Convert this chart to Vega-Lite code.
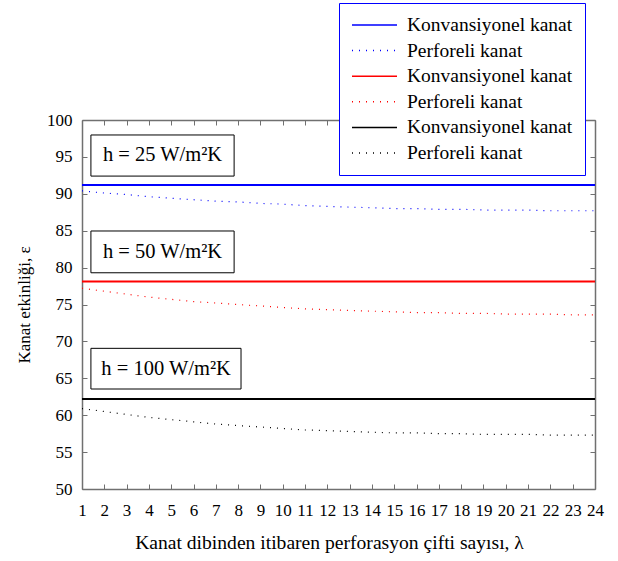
{
  "$schema": "https://vega.github.io/schema/vega-lite/v6.json",
  "width": 513,
  "height": 369,
  "autosize": "none",
  "padding": {"left": 82, "top": 120, "right": 23, "bottom": 72},
  "background": "white",
  "config": {
    "view": {"stroke": null},
    "font": "Liberation Serif",
    "axis": {
      "grid": false,
      "domainColor": "#707070",
      "domainWidth": 1.5,
      "tickColor": "#707070",
      "tickWidth": 1,
      "tickSize": -5,
      "labelFont": "Liberation Serif",
      "labelFontSize": 17,
      "labelColor": "black",
      "titleFont": "Liberation Serif",
      "titleFontSize": 17,
      "titleFontWeight": "normal",
      "titleColor": "black",
      "labelFlush": false,
      "labelOverlap": false
    },
    "legend": {
      "orient": "none",
      "legendX": 257,
      "legendY": -117,
      "strokeColor": "#0000ff",
      "fillColor": "white",
      "padding": 12,
      "labelFont": "Liberation Serif",
      "labelFontSize": 19.5,
      "labelColor": "black",
      "labelLimit": 400,
      "symbolType": "M-1,0H4",
      "symbolSize": 324,
      "symbolStrokeWidth": 1.5,
      "labelOffset": 36,
      "rowPadding": 5.6
    }
  },
  "datasets": {
    "solid": [
      {"x": 1, "y": 91.2, "s": "K25"}, {"x": 24, "y": 91.2, "s": "K25"},
      {"x": 1, "y": 78.1, "s": "K50"}, {"x": 24, "y": 78.1, "s": "K50"},
      {"x": 1, "y": 62.2, "s": "K100"}, {"x": 24, "y": 62.2, "s": "K100"}
    ],
    "dotted": [
      {"x": 1, "y": 90.4, "s": "P25"}, {"x": 2, "y": 90.1, "s": "P25"}, {"x": 3, "y": 89.9, "s": "P25"}, {"x": 4, "y": 89.6, "s": "P25"},
      {"x": 5, "y": 89.4, "s": "P25"}, {"x": 6, "y": 89.2, "s": "P25"}, {"x": 7, "y": 89.0, "s": "P25"}, {"x": 8, "y": 88.9, "s": "P25"},
      {"x": 9, "y": 88.7, "s": "P25"}, {"x": 10, "y": 88.6, "s": "P25"}, {"x": 11, "y": 88.4, "s": "P25"}, {"x": 12, "y": 88.3, "s": "P25"},
      {"x": 13, "y": 88.2, "s": "P25"}, {"x": 14, "y": 88.1, "s": "P25"}, {"x": 15, "y": 88.0, "s": "P25"}, {"x": 16, "y": 88.0, "s": "P25"},
      {"x": 17, "y": 87.9, "s": "P25"}, {"x": 18, "y": 87.9, "s": "P25"}, {"x": 19, "y": 87.8, "s": "P25"}, {"x": 20, "y": 87.8, "s": "P25"},
      {"x": 21, "y": 87.8, "s": "P25"}, {"x": 22, "y": 87.7, "s": "P25"}, {"x": 23, "y": 87.7, "s": "P25"}, {"x": 24, "y": 87.7, "s": "P25"},
      {"x": 1, "y": 77.2, "s": "P50"}, {"x": 2, "y": 76.8, "s": "P50"}, {"x": 3, "y": 76.4, "s": "P50"}, {"x": 4, "y": 76.0, "s": "P50"},
      {"x": 5, "y": 75.7, "s": "P50"}, {"x": 6, "y": 75.4, "s": "P50"}, {"x": 7, "y": 75.2, "s": "P50"}, {"x": 8, "y": 75.0, "s": "P50"},
      {"x": 9, "y": 74.8, "s": "P50"}, {"x": 10, "y": 74.6, "s": "P50"}, {"x": 11, "y": 74.4, "s": "P50"}, {"x": 12, "y": 74.3, "s": "P50"},
      {"x": 13, "y": 74.2, "s": "P50"}, {"x": 14, "y": 74.1, "s": "P50"}, {"x": 15, "y": 74.0, "s": "P50"}, {"x": 16, "y": 73.9, "s": "P50"},
      {"x": 17, "y": 73.9, "s": "P50"}, {"x": 18, "y": 73.8, "s": "P50"}, {"x": 19, "y": 73.8, "s": "P50"}, {"x": 20, "y": 73.7, "s": "P50"},
      {"x": 21, "y": 73.7, "s": "P50"}, {"x": 22, "y": 73.7, "s": "P50"}, {"x": 23, "y": 73.6, "s": "P50"}, {"x": 24, "y": 73.6, "s": "P50"},
      {"x": 1, "y": 60.9, "s": "P100"}, {"x": 2, "y": 60.5, "s": "P100"}, {"x": 3, "y": 60.1, "s": "P100"}, {"x": 4, "y": 59.7, "s": "P100"},
      {"x": 5, "y": 59.4, "s": "P100"}, {"x": 6, "y": 59.1, "s": "P100"}, {"x": 7, "y": 58.8, "s": "P100"}, {"x": 8, "y": 58.6, "s": "P100"},
      {"x": 9, "y": 58.4, "s": "P100"}, {"x": 10, "y": 58.2, "s": "P100"}, {"x": 11, "y": 58.0, "s": "P100"}, {"x": 12, "y": 57.9, "s": "P100"},
      {"x": 13, "y": 57.8, "s": "P100"}, {"x": 14, "y": 57.7, "s": "P100"}, {"x": 15, "y": 57.6, "s": "P100"}, {"x": 16, "y": 57.6, "s": "P100"},
      {"x": 17, "y": 57.5, "s": "P100"}, {"x": 18, "y": 57.5, "s": "P100"}, {"x": 19, "y": 57.4, "s": "P100"}, {"x": 20, "y": 57.4, "s": "P100"},
      {"x": 21, "y": 57.4, "s": "P100"}, {"x": 22, "y": 57.3, "s": "P100"}, {"x": 23, "y": 57.3, "s": "P100"}, {"x": 24, "y": 57.3, "s": "P100"}
    ],
    "boxes": [
      {"x1": 1.4, "x2": 7.82, "y1": 97.97, "y2": 92.4, "xc": 4.61, "yc": 95.2, "label": "h = 25 W/m²K"},
      {"x1": 1.4, "x2": 7.82, "y1": 84.96, "y2": 79.3, "xc": 4.61, "yc": 82.1, "label": "h = 50 W/m²K"},
      {"x1": 1.4, "x2": 8.13, "y1": 69.06, "y2": 63.55, "xc": 4.77, "yc": 66.3, "label": "h = 100 W/m²K"}
    ]
  },
  "resolve": {"axis": {"x": "independent", "y": "independent"}},
  "layer": [
    {
      "data": {"name": "boxes"},
      "mark": {"type": "rect", "fill": "white", "stroke": "black", "strokeWidth": 1},
      "encoding": {
        "x": {
          "field": "x1", "type": "quantitative",
          "scale": {"domain": [1, 24], "nice": false, "zero": false},
          "axis": {
            "orient": "bottom",
            "values": [1,2,3,4,5,6,7,8,9,10,11,12,13,14,15,16,17,18,19,20,21,22,23,24],
            "labelFont": "Liberation Serif",
            "labelFontSize": 17,
            "labelPadding": 18,
            "title": "Kanat dibinden itibaren perforasyon çifti sayısı, λ",
            "titleFont": "Liberation Serif",
            "titleFontSize": 19.6,
            "titlePadding": 15,
            "titleX": 247
          }
        },
        "x2": {"field": "x2"},
        "y": {
          "field": "y1", "type": "quantitative",
          "scale": {"domain": [50, 100], "nice": false, "zero": false},
          "axis": {
            "orient": "left",
            "values": [50,55,60,65,70,75,80,85,90,95,100],
            "labelFont": "Liberation Serif",
            "labelFontSize": 17,
            "labelPadding": 15,
            "title": "Kanat etkinliği, ε",
            "titleFont": "Liberation Serif",
            "titleFontSize": 17,
            "titlePadding": 13
          }
        },
        "y2": {"field": "y2"}
      }
    },
    {
      "data": {"name": "boxes"},
      "mark": {"type": "text", "font": "Liberation Serif", "fontSize": 20.5, "color": "black", "align": "center", "baseline": "middle"},
      "encoding": {
        "x": {"field": "xc", "type": "quantitative", "scale": {"domain": [1, 24], "nice": false, "zero": false}, "axis": null},
        "y": {"field": "yc", "type": "quantitative", "scale": {"domain": [50, 100], "nice": false, "zero": false}, "axis": null},
        "text": {"field": "label"}
      }
    },
    {
      "data": {"name": "solid"},
      "mark": {"type": "line", "strokeWidth": 2},
      "encoding": {
        "x": {
          "field": "x", "type": "quantitative",
          "scale": {"domain": [1, 24], "nice": false, "zero": false},
          "axis": {
            "orient": "top",
            "values": [1,2,3,4,5,6,7,8,9,10,11,12,13,14,15,16,17,18,19,20,21,22,23,24],
            "labels": false,
            "title": null
          }
        },
        "y": {
          "field": "y", "type": "quantitative",
          "scale": {"domain": [50, 100], "nice": false, "zero": false},
          "axis": {
            "orient": "right",
            "values": [50,55,60,65,70,75,80,85,90,95,100],
            "labels": false,
            "title": null
          }
        },
        "color": {
          "field": "s", "type": "nominal",
          "scale": {
            "domain": ["K25", "P25", "K50", "P50", "K100", "P100"],
            "range": ["#0000ff", "#0000ff", "#ff0000", "#ff0000", "#000000", "#000000"]
          },
          "legend": {
            "title": null,
            "labelExpr": "indexof(datum.value, 'K') == 0 ? 'Konvansiyonel kanat' : 'Perforeli kanat'"
          }
        },
        "strokeDash": {
          "field": "s", "type": "nominal",
          "scale": {
            "domain": ["K25", "P25", "K50", "P50", "K100", "P100"],
            "range": [[1, 0], [1, 6], [1, 0], [1, 6], [1, 0], [1, 6]]
          },
          "legend": {
            "title": null,
            "labelExpr": "indexof(datum.value, 'K') == 0 ? 'Konvansiyonel kanat' : 'Perforeli kanat'"
          }
        }
      }
    },
    {
      "data": {"name": "dotted"},
      "mark": {"type": "line", "strokeWidth": 1.2},
      "encoding": {
        "x": {"field": "x", "type": "quantitative", "scale": {"domain": [1, 24], "nice": false, "zero": false}, "axis": null},
        "y": {"field": "y", "type": "quantitative", "scale": {"domain": [50, 100], "nice": false, "zero": false}, "axis": null},
        "color": {
          "field": "s", "type": "nominal",
          "scale": {
            "domain": ["K25", "P25", "K50", "P50", "K100", "P100"],
            "range": ["#0000ff", "#0000ff", "#ff0000", "#ff0000", "#000000", "#000000"]
          },
          "legend": {
            "title": null,
            "labelExpr": "indexof(datum.value, 'K') == 0 ? 'Konvansiyonel kanat' : 'Perforeli kanat'"
          }
        },
        "strokeDash": {
          "field": "s", "type": "nominal",
          "scale": {
            "domain": ["K25", "P25", "K50", "P50", "K100", "P100"],
            "range": [[1, 0], [1, 6], [1, 0], [1, 6], [1, 0], [1, 6]]
          },
          "legend": {
            "title": null,
            "labelExpr": "indexof(datum.value, 'K') == 0 ? 'Konvansiyonel kanat' : 'Perforeli kanat'"
          }
        }
      }
    }
  ]
}
